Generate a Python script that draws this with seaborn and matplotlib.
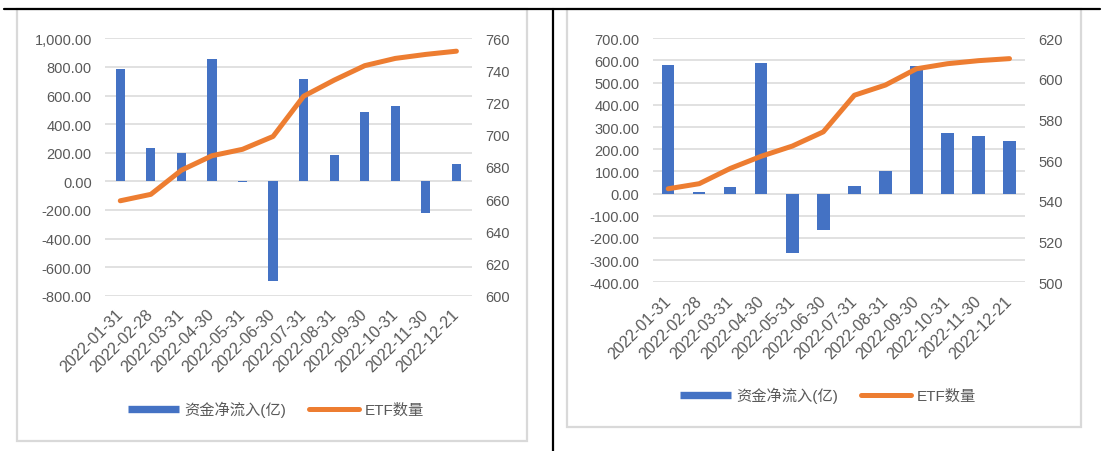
import matplotlib
matplotlib.use("Agg")
import matplotlib.pyplot as plt
from matplotlib.lines import Line2D
from matplotlib.patches import Rectangle
from matplotlib.ticker import FuncFormatter, MultipleLocator
import seaborn as sns

# Month-end dates shared by both panels
dates = ["2022-01-31", "2022-02-28", "2022-03-31", "2022-04-30",
         "2022-05-31", "2022-06-30", "2022-07-31", "2022-08-31",
         "2022-09-30", "2022-10-31", "2022-11-30", "2022-12-21"]

# Left panel: net fund inflow (100 million) and number of ETFs
flow_a = [785, 230, 200, 855, -5, -700, 713, 182, 487, 530, -220, 123]
etf_a = [659, 663, 678, 687, 691, 699, 724, 734, 743, 747.5, 750, 752]

# Right panel: net fund inflow (100 million) and number of ETFs
flow_b = [578, 5, 28, 589, -269, -165, 33, 100, 577, 274, 258, 237]
etf_b = [546, 548.5, 556, 562, 567, 574, 592, 597, 605, 607.5, 609, 610]

labels = ["资金净流入(亿)", "ETF数量"]

BLUE = "#4472C4"
ORANGE = "#ED7D31"
TEXT = "#595959"
GRID = "#D9D9D9"

sns.set_style("white")
plt.rcParams["font.family"] = ["Liberation Sans", "Noto Sans CJK SC"]

W, H = 1102, 452
fig = plt.figure(figsize=(W / 100, H / 100), dpi=100)


def px_rect(x0, y0, x1, y1):
    return [x0 / W, 1 - y1 / H, (x1 - x0) / W, (y1 - y0) / H]


def frame(x0, y0, x1, y1):
    l, b, w, h = px_rect(x0, y0, x1, y1)
    fig.add_artist(Rectangle((l, b), w, h, transform=fig.transFigure,
                             fill=False, edgecolor=GRID, lw=1.6))


def panel(bounds, flow, etf, bar_width, ylim, ystep, y2lim, y2step, legend_xy):
    ax = fig.add_axes(px_rect(*bounds))
    sns.barplot(x=dates, y=flow, color=BLUE, saturation=1, width=bar_width,
                edgecolor="none", linewidth=0, ax=ax, zorder=2)
    ax2 = ax.twinx()
    sns.pointplot(x=dates, y=etf, color=ORANGE, markers="", errorbar=None,
                  linewidth=3.6, ax=ax2)
    for ln in ax2.lines:
        ln.set_marker("None")
        ln.set_solid_capstyle("round")
        ln.set_solid_joinstyle("round")

    ax.set_xlim(-0.5, len(dates) - 0.5)
    ax.set_ylim(*ylim)
    ax.yaxis.set_major_locator(MultipleLocator(ystep))
    ax.yaxis.set_major_formatter(FuncFormatter(lambda v, _: f"{v:,.2f}"))
    ax.grid(axis="y", color=GRID, lw=1.1)
    ax.grid(axis="x", visible=False)
    ax.set_axisbelow(True)

    ax2.set_ylim(*y2lim)
    ax2.yaxis.set_major_locator(MultipleLocator(y2step))
    ax2.yaxis.set_major_formatter(FuncFormatter(lambda v, _: f"{v:.0f}"))
    ax2.grid(False)

    for a in (ax, ax2):
        a.set_xlabel("")
        a.set_ylabel("")
        for s in a.spines.values():
            s.set_visible(False)
        a.tick_params(axis="y", length=0, pad=9.5, labelsize=10.5,
                      labelcolor=TEXT)

    ax.tick_params(axis="x", length=0, pad=11.5, labelsize=11.5,
                   labelcolor=TEXT)
    for lab in ax.get_xticklabels():
        lab.set_rotation(45)
        lab.set_ha("right")
        lab.set_va("center")
        lab.set_rotation_mode("anchor")

    handles = [Line2D([], [], color=BLUE, lw=5.3, solid_capstyle="butt"),
               Line2D([], [], color=ORANGE, lw=3.6, solid_capstyle="round")]
    fig.legend(handles, labels, loc="center",
               bbox_to_anchor=(legend_xy[0] / W, 1 - legend_xy[1] / H),
               ncol=2, frameon=False, fontsize=11, labelcolor=TEXT,
               handlelength=3.3, handletextpad=0.35, columnspacing=1.5)


# Chart frames and the black separator lines
frame(17.3, 10, 526.7, 441.7)
frame(567.3, 10, 1080.7, 427.7)
fig.add_artist(Line2D([4 / W, 1100 / W], [1 - 9.5 / H] * 2, color="black",
                      lw=1.6, transform=fig.transFigure))
fig.add_artist(Line2D([553.3 / W] * 2, [1 - 9.5 / H, 0], color="black",
                      lw=1.6, transform=fig.transFigure))

panel((105, 39.3, 471.7, 296.7), flow_a, etf_a, 0.3,
      (-800, 1000), 200, (600, 760), 20, (276, 409.7))
panel((652.7, 39.3, 1025, 283.3), flow_b, etf_b, 0.4,
      (-400, 700), 100, (500, 620), 20, (828, 396))

fig.savefig("out.png", dpi=100, facecolor="white")
